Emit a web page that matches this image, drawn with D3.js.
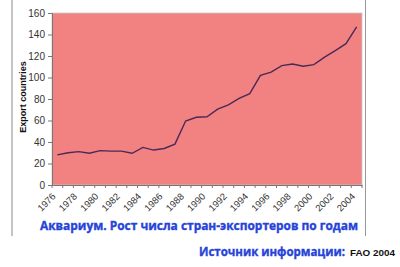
<!DOCTYPE html>
<html><head><meta charset="utf-8">
<script src="https://cdn.jsdelivr.net/npm/d3@7"></script>
<style>body{margin:0;background:#fff}svg{display:block}</style>
</head><body>
<svg id="c" width="400" height="267"></svg>
<script>
const years = d3.range(1976, 2005).map(String);
const exportCountries = [28,30,31,29.5,32,31.5,31.5,29.5,35,32.5,34,38,59.5,63,63.5,70.5,74.5,80.5,85,102,105,111,112.5,110.5,112,119,125,131.5,147];
const yTicks = [0,20,40,60,80,100,120,140,160];
const yTitle = "Export countries";
const title = "Аквариум. Рост числа стран-экспортеров по годам";
const sourceLabel = "Источник информации:";
const sourceValue = "FAO 2004";

const svg = d3.select("#c");
const L=52, R=362, T=13, B=185;
const x = d3.scaleBand().domain(years).range([L,R]);
const y = d3.scaleLinear().domain([0,160]).range([B,T]);

// outer frame lines
svg.append("line").attr("x1",12).attr("x2",12).attr("y1",0).attr("y2",236).attr("stroke","#888").attr("stroke-width",1);
svg.append("line").attr("x1",365.5).attr("x2",365.5).attr("y1",0).attr("y2",236).attr("stroke","#999").attr("stroke-width",1);

// plot background
svg.append("rect").attr("x",L).attr("y",T).attr("width",R-L).attr("height",B-T)
  .attr("fill","#F28282").attr("stroke","#c8c8c8").attr("stroke-width",0.8);

// y axis
const yAxis = svg.append("g").attr("transform",`translate(${L},0)`)
  .call(d3.axisLeft(y).tickValues(yTicks).tickSize(4).tickPadding(3));
yAxis.select(".domain").attr("stroke","#777");
yAxis.selectAll(".tick line").attr("stroke","#777");
yAxis.selectAll("text").attr("font-family","Liberation Sans, Arial, sans-serif").attr("font-size",10).attr("fill","#333");

// x axis
const xAxis = svg.append("g").attr("transform",`translate(0,${B})`)
  .call(d3.axisBottom(x).tickSize(0).tickFormat(d => (+d-1976)%2===0 ? d : ""));
xAxis.select(".domain").attr("stroke","#777");
xAxis.selectAll("text").attr("font-family","Liberation Sans, Arial, sans-serif").attr("font-size",9.5).attr("fill","#333")
  .attr("text-anchor","end").attr("x",0).attr("y",0).attr("dx",0).attr("dy",0)
  .attr("transform","translate(-1,12) rotate(-45)");
// tick marks at category boundaries
xAxis.selectAll(".bnd").data(years.concat(["end"])).enter().append("line")
  .attr("x1",(d,i)=>L+i*x.step()).attr("x2",(d,i)=>L+i*x.step())
  .attr("y1",0).attr("y2",3).attr("stroke","#777");

// y title
svg.append("text").attr("transform","translate(26,97) rotate(-90)")
  .attr("text-anchor","middle").attr("font-family","Liberation Sans, Arial, sans-serif")
  .attr("font-weight","bold").attr("font-size",9).attr("fill","#111").text(yTitle);

// line
const line = d3.line().x((d,i)=>x(years[i])+x.bandwidth()/2).y(d=>y(d));
svg.append("path").datum(exportCountries).attr("d",line)
  .attr("fill","none").attr("stroke","#4a2a55").attr("stroke-width",1.4);

// titles
const blue = "#2643d8";
svg.append("text").attr("x",199).attr("y",230).attr("text-anchor","middle")
  .attr("font-family","Open Sans, Liberation Sans, sans-serif").attr("font-weight","bold")
  .attr("font-size",12).attr("fill",blue).attr("stroke",blue).attr("stroke-width",0.35)
  .attr("textLength",318).attr("lengthAdjust","spacingAndGlyphs").text(title);
svg.append("text").attr("x",199).attr("y",256)
  .attr("font-family","Open Sans, Liberation Sans, sans-serif").attr("font-weight","bold")
  .attr("font-size",12).attr("fill",blue).attr("stroke",blue).attr("stroke-width",0.35)
  .attr("textLength",146).attr("lengthAdjust","spacingAndGlyphs").text(sourceLabel);
svg.append("text").attr("x",350).attr("y",256)
  .attr("font-family","Liberation Sans, Arial, sans-serif").attr("font-weight","bold")
  .attr("font-size",9).attr("fill","#111").attr("textLength",45).attr("lengthAdjust","spacingAndGlyphs").text(sourceValue);
</script>
</body></html>
